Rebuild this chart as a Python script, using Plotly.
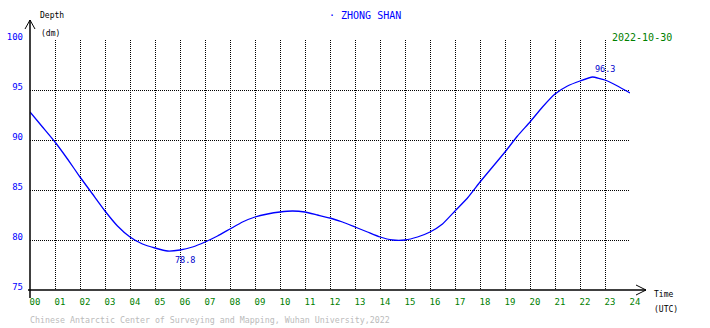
import plotly.graph_objects as go

# ---- data ----
hours = [0, 0.5, 1, 1.5, 2, 2.5, 3, 3.5, 4, 4.5, 5, 5.5, 6, 6.5, 7, 7.5, 8, 8.5, 9, 9.5,
         10, 10.5, 11, 11.5, 12, 12.5, 13, 13.5, 14, 14.5, 15, 15.5, 16, 16.5, 17, 17.5,
         18, 18.5, 19, 19.5, 20, 20.5, 21, 21.5, 22, 22.5, 23, 23.5, 24]
depth = [92.8, 91.3, 89.8, 88.1, 86.3, 84.6, 82.9, 81.4, 80.3, 79.6, 79.2, 78.9, 79.0, 79.3,
         79.8, 80.4, 81.1, 81.8, 82.3, 82.6, 82.8, 82.9, 82.8, 82.5, 82.2, 81.8, 81.3, 80.8,
         80.3, 80.0, 80.0, 80.3, 80.8, 81.6, 82.9, 84.2, 85.8, 87.3, 88.8, 90.4, 91.8, 93.3,
         94.6, 95.4, 95.9, 96.3, 96.0, 95.4, 94.7]

extreme_times = [5.7, 22.5]
extreme_values = [78.8, 96.3]
extreme_labels = ["78.8", "96.3"]

x_tick_vals = list(range(0, 25))
x_tick_text = ["%02d" % h for h in x_tick_vals]
y_tick_vals = [75, 80, 85, 90, 95, 100]
y_tick_text = ["75", "80", "85", "90", "95", "100"]

station = "ZHONG SHAN"
date_text = "2022-10-30"
footer = "Chinese Antarctic Center of Surveying and Mapping, Wuhan University,2022"

MONO = "DejaVu Sans Mono"
BLUE = "#0000ff"
GREEN = "#008000"

fig = go.Figure()
fig.add_trace(go.Scatter(x=hours, y=depth, mode="lines",
                         line=dict(color=BLUE, width=1.3, shape="spline", smoothing=0.4),
                         hoverinfo="skip", showlegend=False))

# extreme value labels
for t, v, lab in zip(extreme_times, extreme_values, extreme_labels):
    low = v < 90
    fig.add_annotation(x=t, y=v, text=lab, showarrow=False, xanchor="left",
                       yanchor="top" if low else "bottom",
                       yshift=-1 if low else 1,
                       font=dict(family=MONO, size=8.5, color="#0000cc"))

fig.update_layout(
    width=710, height=328,
    margin=dict(l=30, r=80, t=40, b=38, autoexpand=False),
    paper_bgcolor="white", plot_bgcolor="white",
    xaxis=dict(range=[0, 24], tickmode="array", tickvals=x_tick_vals, ticktext=x_tick_text,
               showgrid=True, gridcolor="black", gridwidth=1, griddash="1px,1px",
               zeroline=False, showline=False, ticks="", automargin=False,
               tickfont=dict(family=MONO, size=9, color=GREEN),
               ticklabelshift=5, ticklabelstandoff=5, fixedrange=True),
    yaxis=dict(range=[75, 100], tickmode="array", tickvals=y_tick_vals, ticktext=y_tick_text,
               showgrid=True, gridcolor="black", gridwidth=1, griddash="1px,1px",
               zeroline=False, showline=False, ticks="", automargin=False,
               tickfont=dict(family=MONO, size=9, color=BLUE),
               ticklabelshift=-3, ticklabelstandoff=6, fixedrange=True),
)

def px(x):
    return (x - 30) / 600.0

def py(y):
    return (290 - y) / 250.0

axis_line = dict(color="black", width=1.5)
shapes = [
    # y axis with arrow
    dict(type="line", xref="paper", yref="paper", x0=px(30), x1=px(30), y0=py(298), y1=py(20), line=axis_line),
    dict(type="line", xref="paper", yref="paper", x0=px(30), x1=px(25), y0=py(20), y1=py(29), line=dict(color="black", width=1)),
    dict(type="line", xref="paper", yref="paper", x0=px(30), x1=px(35), y0=py(20), y1=py(29), line=dict(color="black", width=1)),
    # x axis with arrow
    dict(type="line", xref="paper", yref="paper", x0=px(28), x1=px(646), y0=py(290), y1=py(290), line=axis_line),
    dict(type="line", xref="paper", yref="paper", x0=px(646), x1=px(636), y0=py(290), y1=py(285), line=dict(color="black", width=1)),
    dict(type="line", xref="paper", yref="paper", x0=px(646), x1=px(636), y0=py(290), y1=py(295), line=dict(color="black", width=1)),
]
fig.update_layout(shapes=shapes)

def ann(text, x, y, color, size, xanchor="left", bg=None):
    fig.add_annotation(xref="paper", yref="paper", x=px(x), y=py(y), text=text,
                       showarrow=False, xanchor=xanchor, yanchor="middle",
                       font=dict(family=MONO, size=size, color=color),
                       bgcolor=bg, borderpad=0)

ann("Depth", 39, 16, "black", 8)
ann("(dm)", 40, 34, "black", 8)
ann("Time", 653, 294, "black", 8)
ann("(UTC)", 653, 309, "black", 8)
ann("· " + station, 328, 16, BLUE, 10)
ann(date_text, 611, 37, GREEN, 10, bg="white")
ann(footer, 29, 320, "#bbbbbb", 8.3)

fig.write_html("out.html")
